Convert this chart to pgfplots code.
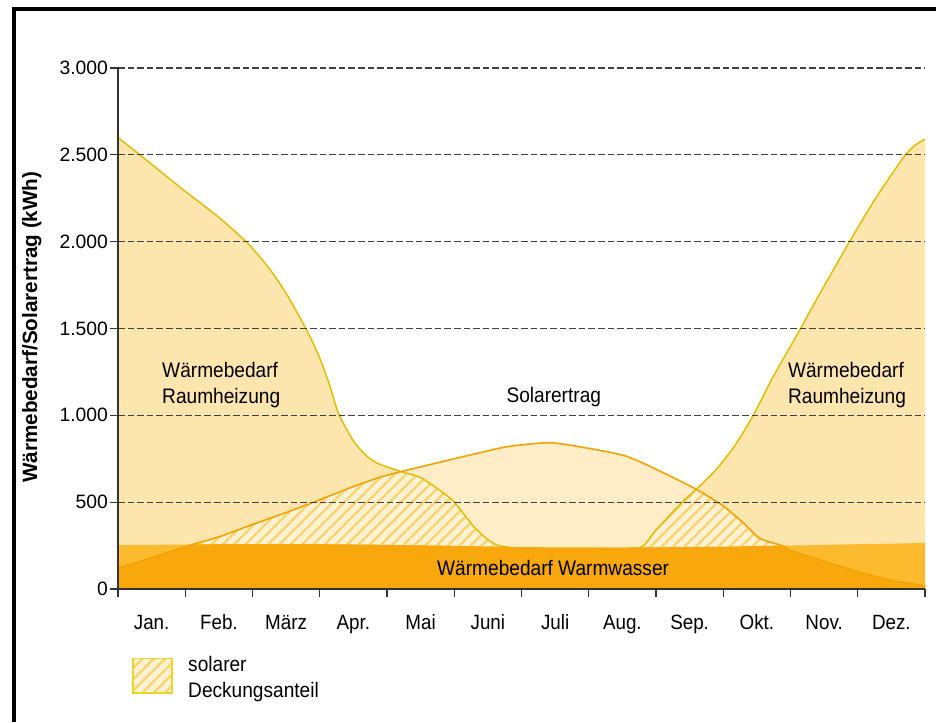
\documentclass[border=0pt]{standalone}
\usepackage{fontspec}
\setmainfont{Liberation Sans}[FakeStretch=0.91]
\newfontfamily\tickfont{Liberation Sans}
\usepackage{pgfplots}
\usepackage{pgfplotstable}
\pgfplotsset{compat=1.18}
\usetikzlibrary{patterns.meta}

\definecolor{heatfill}{RGB}{253,229,174}
\definecolor{solarfill}{RGB}{254,237,198}
\definecolor{hatchbg}{RGB}{254,241,212}
\definecolor{hatchline}{RGB}{249,212,108}
\definecolor{bandlight}{RGB}{252,187,46}
\definecolor{banddark}{RGB}{248,168,12}
\definecolor{heatline}{RGB}{226,188,0}
\definecolor{solarline}{RGB}{242,163,0}
\definecolor{axiscol}{RGB}{50,50,50}
\definecolor{legborder}{RGB}{236,212,40}

\newcommand\lbl{\fontsize{15.75}{19.5}\selectfont}

\pgfplotstableread{
x y
0 2600
0.37 2486
1.0 2290
1.5 2140
1.93 1990
2.25 1845
2.52 1690
2.82 1480
3.0 1330
3.15 1170
3.28 1010
3.5 853
3.7 765
3.87 722
4.21 676
4.5 642
4.85 550
5.0 500
5.3 355
5.5 285
5.66 250
6.0 236
7.0 234
7.75 236
8.0 340
8.39 500
8.61 578
8.9 690
9.18 830
9.46 1010
9.73 1214
10.15 1500
10.37 1655
10.85 1982
11.25 2240
11.67 2480
11.85 2555
12.0 2590
}\heat

\pgfplotstableread{
x y
0 120
0.5 180
1.07 252
1.5 300
1.97 367
2.5 440
2.91 500
3.5 590
3.91 645
4.21 676
5.0 750
5.70 813
6.0 830
6.45 842
7.0 810
7.54 767
8.0 690
8.58 578
8.99 481
9.3 380
9.54 292
9.88 249
10.0 222
10.5 160
11.0 100
11.5 50
12.0 18
}\solar

\pgfplotstableread{
x y
0 253
1 256
2 258
3 258
4 254
5 248
6 240
7 238
8 240
9 243
10 250
11 258
12 265
}\band

% part of the hot-water band that lies below the solar curve: min(solar, band)
\pgfplotstableread{
x y
0 120
0.5 180
1.07 252
2 258
3 258
4 254
5 248
6 240
7 238
8 240
9 243
9.88 249
10.0 222
10.5 160
11.0 100
11.5 50
12.0 18
}\banddark

% solar share (min of solar and demand), spring
\pgfplotstableread{
x y
1.07 252
1.5 300
1.97 367
2.5 440
2.91 500
3.5 590
3.91 645
4.21 676
4.5 642
4.85 550
5.0 500
5.3 355
5.5 285
5.66 250
}\hatchA

% solar share, autumn
\pgfplotstableread{
x y
7.75 236
8.0 340
8.39 500
8.61 578
8.99 481
9.3 380
9.54 292
9.88 249
}\hatchB

\begin{document}
\begin{tikzpicture}
\useasboundingbox (-88.5pt,-99.75pt) rectangle (613.5pt,441.75pt);
\begin{axis}[
  at={(0pt,0pt)}, anchor=south west,
  scale only axis, width=605.25pt, height=390.75pt,
  xmin=0, xmax=12, ymin=0, ymax=3000,
  clip=false, axis on top,
  axis x line*=bottom, axis y line*=left,
  axis line style={draw=axiscol, line width=1.1pt},
  ytick={0,500,...,3000},
  scaled y ticks=false,
  /pgf/number format/.cd, 1000 sep={.}, assume math mode=true, /pgfplots/.cd,
  ymajorgrids,
  major grid style={draw=black!75, line width=0.8pt, dash pattern=on 5pt off 2.2pt},
  tick align=outside,
  major tick length=6pt,
  tick style={draw=axiscol, line width=0.8pt},
  xtick={0,1,...,12},
  xticklabels={},
  extra x ticks={0.5,1.5,...,11.5},
  extra x tick labels={Jan.,Feb.,März,Apr.,Mai,Juni,Juli,Aug.,Sep.,Okt.,Nov.,Dez.},
  extra x tick style={major tick length=0pt},
  xticklabel style={font=\fontsize{15.5}{18}\selectfont, anchor=north, text height=11.5pt, text depth=3.5pt, yshift=-15pt},
  yticklabel style={font=\tickfont\fontsize{14.5}{16}\selectfont, anchor=east, xshift=2pt},
]
% heating demand area
\addplot[draw=none, fill=heatfill, smooth, tension=0.4] table[x=x,y=y]{\heat} \closedcycle;
% solar yield area
\addplot[draw=none, fill=solarfill, smooth, tension=0.4] table[x=x,y=y]{\solar} \closedcycle;
% solar share hatched
\addplot[draw=none, fill=hatchbg, smooth, tension=0.4,
  postaction={pattern={Lines[angle=45,distance=6pt,line width=1.7pt]}, pattern color=hatchline}]
  table[x=x,y=y]{\hatchA} \closedcycle;
\addplot[draw=none, fill=hatchbg, smooth, tension=0.4,
  postaction={pattern={Lines[angle=45,distance=6pt,line width=1.7pt]}, pattern color=hatchline}]
  table[x=x,y=y]{\hatchB} \closedcycle;
% heating demand line
\addplot[heatline, line width=1.1pt, smooth, tension=0.4] table[x=x,y=y]{\heat};
% hot water band
\addplot[draw=none, fill=bandlight, smooth, tension=0.4] table[x=x,y=y]{\band} \closedcycle;
\addplot[draw=none, fill=banddark, smooth, tension=0.4] table[x=x,y=y]{\banddark} \closedcycle;
% solar yield line
\addplot[solarline, line width=1.2pt, smooth, tension=0.4] table[x=x,y=y]{\solar};

% labels
\node[font=\lbl, align=left, anchor=west, inner sep=0pt] at (axis cs:0.654,1175) {Wärmebedarf\\Raumheizung};
\node[font=\lbl, align=left, anchor=west, inner sep=0pt] at (axis cs:9.96,1175) {Wärmebedarf\\Raumheizung};
\node[font=\lbl, inner sep=0pt] at (axis cs:6.48,1105) {Solarertrag};
\node[font=\lbl, inner sep=0pt] at (axis cs:6.47,121) {Wärmebedarf Warmwasser};
\node[font=\tickfont\bfseries\fontsize{15.5}{18}\selectfont, rotate=90, inner sep=0pt] at (axis cs:-1.28,1508) {Wärmebedarf/Solarertrag (kWh)};

% legend
\fill[hatchbg] (axis cs:0.223,-400) rectangle (axis cs:0.803,-600);
\fill[pattern={Lines[angle=45,distance=6pt,line width=1.7pt]}, pattern color=hatchline] (axis cs:0.223,-400) rectangle (axis cs:0.803,-600);
\draw[legborder, line width=1.3pt] (axis cs:0.223,-400) rectangle (axis cs:0.803,-600);
\node[font=\lbl, align=left, anchor=west, inner sep=0pt] at (axis cs:1.04,-520) {solarer\\Deckungsanteil};
\end{axis}
% outer frame
\draw[black, line width=2.6pt] (-78pt,-99.75pt) -- (-78pt,435pt) -- (613.5pt,435pt);
\end{tikzpicture}
\end{document}
